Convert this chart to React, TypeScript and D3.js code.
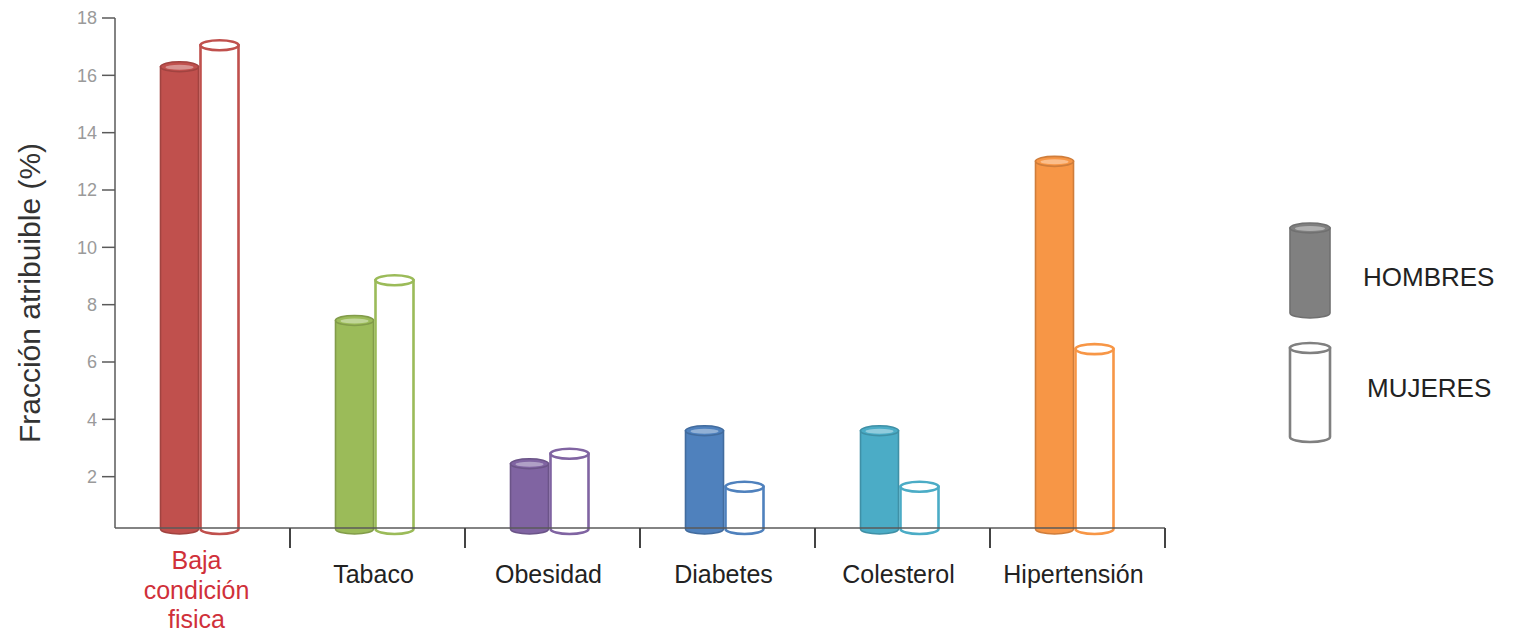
import React from "react";
import * as d3 from "d3";

const categories = ["Baja condición física", "Tabaco", "Obesidad", "Diabetes", "Colesterol", "Hipertensión"];
const categoryLines = [["Baja", "condición", "fisica"], ["Tabaco"], ["Obesidad"], ["Diabetes"], ["Colesterol"], ["Hipertensión"]];
const hombres = [16.3, 7.45, 2.45, 3.6, 3.6, 13.0];
const mujeres = [17.05, 8.85, 2.8, 1.65, 1.65, 6.45];
const colors = ["#C0504D", "#9BBB59", "#8064A2", "#4F81BD", "#4BACC6", "#F79646"];
const yTicks = [2, 4, 6, 8, 10, 12, 14, 16, 18];
const legendLabels = ["HOMBRES", "MUJERES"];

const W = 1513;
const H = 633;
const FONT = "'Liberation Sans', Arial, sans-serif";

function Cylinder({ x, w, yTop, yBot, fill, stroke, hollow }: any) {
  const rx = w / 2;
  const ry = 5;
  const cx = x + rx;
  const sw = hollow ? 2.6 : 1.6;
  const body = `M${x},${yTop} L${x},${yBot} A${rx},${ry} 0 0 0 ${x + w},${yBot} L${x + w},${yTop} Z`;
  const light = hollow ? "#ffffff" : d3.interpolateRgb(fill, "#ffffff")(0.45);
  return (
    <g>
      <path d={body} fill={hollow ? "#ffffff" : fill} stroke={stroke} strokeWidth={sw} />
      <ellipse cx={cx} cy={yTop} rx={rx} ry={ry} fill={hollow ? "#ffffff" : fill} stroke={stroke} strokeWidth={sw} />
      <ellipse cx={cx} cy={yTop + 0.5} rx={rx - 5} ry={ry - 2.5} fill={light} opacity={0.85} />
    </g>
  );
}

export default function App() {
  const y = d3.scaleLinear().domain([0, 18]).range([534, 18]);
  const x = d3.scaleBand<string>().domain(categories).range([115, 1165]).padding(0);
  const axisY = y(0) - 6;
  const barW = 38;
  const gap = 2;
  const bw = x.bandwidth();
  const shift = -3;

  return (
    <svg width={W} height={H} style={{ position: "absolute", left: 0, top: 0, background: "#fff" }}>
      {/* y axis */}
      <line x1={115} x2={115} y1={y(18)} y2={axisY} stroke="#5a5a5a" strokeWidth={1.5} />
      {yTicks.map((t) => (
        <g key={t}>
          <line x1={102} x2={115} y1={y(t)} y2={y(t)} stroke="#5a5a5a" strokeWidth={1.5} />
          <text x={97} y={y(t)} dy="0.36em" textAnchor="end" fontFamily={FONT} fontSize={18} fill="#9a9a9a">
            {t}
          </text>
        </g>
      ))}
      <text
        transform={`translate(40,${293}) rotate(-90)`}
        textAnchor="middle"
        fontFamily={FONT}
        fontSize={30}
        fill="#333"
      >
        Fracción atribuible (%)
      </text>

      {/* bars */}
      {categories.map((c, i) => {
        const cx = (x(c) as number) + bw / 2 + shift;
        const col = colors[i];
        const dark = d3.color(col)!.darker(0.5).formatHex();
        const yb = y(0) - 5;
        return (
          <g key={c}>
            <Cylinder x={cx - gap / 2 - barW} w={barW} yTop={y(hombres[i])} yBot={yb} fill={col} stroke={dark} hollow={false} />
            <Cylinder x={cx + gap / 2} w={barW} yTop={y(mujeres[i])} yBot={yb} fill={col} stroke={col} hollow={true} />
          </g>
        );
      })}

      {/* x axis */}
      <line x1={115} x2={1165} y1={axisY} y2={axisY} stroke="#5a5a5a" strokeWidth={1.5} />
      {categories.map((c) => {
        const xr = (x(c) as number) + bw;
        return <line key={"t" + c} x1={xr} x2={xr} y1={axisY} y2={axisY + 20} stroke="#444" strokeWidth={2} />;
      })}
      {categories.map((c, i) => {
        const cx = (x(c) as number) + bw / 2 - 4;
        const multi = categoryLines[i].length > 1;
        return (
          <text key={"l" + c} textAnchor="middle" fontFamily={FONT} fontSize={25} fill={i === 0 ? "#d0303a" : "#222"}>
            {categoryLines[i].map((ln, j) => (
              <tspan key={j} x={cx - (multi ? 2 : 0)} y={(multi ? 569 : 583) + j * 29.5}>
                {ln}
              </tspan>
            ))}
          </text>
        );
      })}

      {/* legend */}
      <Cylinder x={1290} w={40} yTop={228} yBot={313} fill="#808080" stroke="#707070" hollow={false} />
      <Cylinder x={1290} w={40} yTop={348} yBot={437} fill="#808080" stroke="#808080" hollow={true} />
      <text x={1363} y={286} fontFamily={FONT} fontSize={26} fill="#222">
        {legendLabels[0]}
      </text>
      <text x={1367} y={397} fontFamily={FONT} fontSize={26} fill="#222">
        {legendLabels[1]}
      </text>
    </svg>
  );
}
